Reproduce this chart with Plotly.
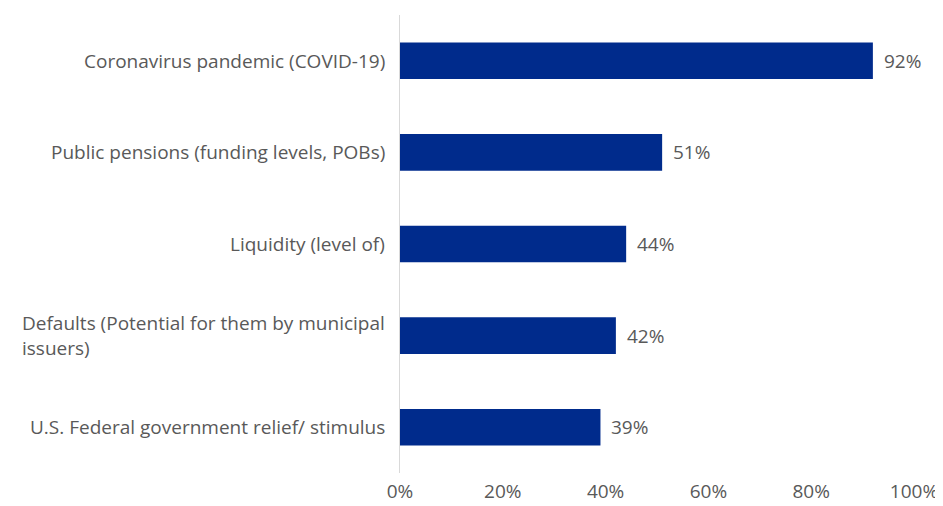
import plotly.graph_objects as go

# survey categories (top to bottom) and share of respondents
categories = [
    "Coronavirus pandemic (COVID-19)",
    "Public pensions (funding levels, POBs)",
    "Liquidity (level of)",
    "Defaults (Potential for them by municipal<br>issuers)",
    "U.S. Federal government relief/ stimulus",
]
values = [0.92, 0.51, 0.44, 0.42, 0.39]
tick_vals = [0, 0.2, 0.4, 0.6, 0.8, 1.0]
tick_text = ["0%", "20%", "40%", "60%", "80%", "100%"]

BAR = "#002B8C"
GREY = "#595959"
FONT = "Open Sans"
SIZE = 19

fig = go.Figure()
fig.add_trace(go.Bar(
    x=values, y=categories, orientation="h",
    marker=dict(color=BAR, line=dict(width=0)),
    width=0.4, hoverinfo="skip",
))

annots = []
for cat, v in zip(categories, values):
    # category label on the left, lines left aligned like the original
    annots.append(dict(x=0, y=cat, xref="x", yref="y", text=cat, showarrow=False,
                       xanchor="right", align="left", xshift=-13,
                       font=dict(family=FONT, size=SIZE, color=GREY)))
    # value label right of the bar
    annots.append(dict(x=v, y=cat, xref="x", yref="y", text=f"{v:.0%}", showarrow=False,
                       xanchor="left", xshift=9,
                       font=dict(family=FONT, size=SIZE, color=GREY)))

# page body has an 8px margin, so the figure is a bit smaller than the window
fig.update_layout(
    width=935, height=498,
    margin=dict(l=392, r=29, t=7, b=33),
    plot_bgcolor="white", paper_bgcolor="white",
    showlegend=False,
    annotations=annots,
    font=dict(family=FONT, size=SIZE, color=GREY),
    xaxis=dict(range=[0, 1], tickvals=tick_vals, ticktext=tick_text,
               showgrid=False, zeroline=False, showline=False, automargin=False,
               ticks="", ticklabelstandoff=5,
               tickfont=dict(family=FONT, size=SIZE, color=GREY)),
    yaxis=dict(autorange="reversed", showticklabels=False, showgrid=False,
               zeroline=False, showline=True, linecolor="#D9D9D9", linewidth=1,
               ticks="", automargin=False),
)

fig.write_html("out.html")
